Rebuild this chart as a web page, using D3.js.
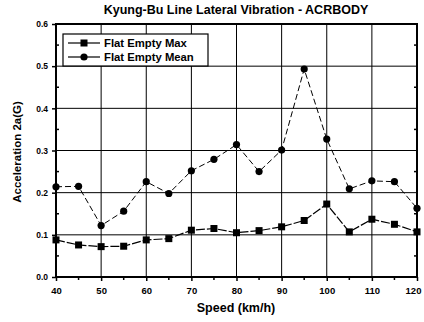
<!DOCTYPE html>
<html><head><meta charset="utf-8">
<script src="https://cdn.jsdelivr.net/npm/d3@7"></script>
<style>body{margin:0;background:#fff}svg{display:block}text{font-family:"Liberation Sans",Arial,sans-serif;font-weight:bold;fill:#000}</style>
</head><body><svg id="c" width="424" height="322"></svg>
<script>
const speeds = [40,45,50,55,60,65,70,75,80,85,90,95,100,105,110,115,120];
const maxVals = [0.088,0.076,0.072,0.073,0.088,0.091,0.111,0.115,0.105,0.110,0.119,0.134,0.173,0.107,0.137,0.125,0.107];
const meanVals = [0.214,0.215,0.122,0.156,0.226,0.198,0.252,0.279,0.314,0.250,0.301,0.493,0.327,0.209,0.228,0.226,0.163];
const xTicks = [40,50,60,70,80,90,100,110,120];
const yTicks = [0,0.1,0.2,0.3,0.4,0.5,0.6];
const yTickLabels = ["0.0","0.1","0.2","0.3","0.4","0.5","0.6"];
const seriesNames = ["Flat Empty Max","Flat Empty Mean"];
const title = "Kyung-Bu Line Lateral Vibration - ACRBODY";

const svg = d3.select("#c");
const L=56,R=417,T=24,B=277;
const x = d3.scaleLinear().domain([40,120]).range([L,R]);
const y = d3.scaleLinear().domain([0,0.6]).range([B,T]);

// grid
svg.append("g").selectAll("line").data(xTicks.slice(1,-1)).join("line")
  .attr("x1",d=>x(d)).attr("x2",d=>x(d)).attr("y1",T).attr("y2",B)
  .attr("stroke","#000").attr("stroke-width",1);
svg.append("g").selectAll("line").data(yTicks.slice(1,-1)).join("line")
  .attr("y1",d=>y(d)).attr("y2",d=>y(d)).attr("x1",L).attr("x2",R)
  .attr("stroke","#000").attr("stroke-width",1);

// axes
const xAxis = d3.axisBottom(x).tickValues(xTicks).tickSize(4).tickFormat(d3.format("d"));
const gx = svg.append("g").attr("transform",`translate(0,${B})`).call(xAxis);
gx.select(".domain").remove();
gx.selectAll("text").attr("font-size",9.5).attr("dy","1.05em");
gx.selectAll("text").filter(d=>d===120).attr("dx",-4);
svg.append("g").selectAll("line").data(d3.range(45,120,10)).join("line")
  .attr("x1",d=>x(d)).attr("x2",d=>x(d)).attr("y1",B).attr("y2",B+3).attr("stroke","#000").attr("stroke-width",1.5);

const yAxis = d3.axisLeft(y).tickValues(yTicks).tickSize(4).tickFormat((d,i)=>yTickLabels[i]);
const gy = svg.append("g").attr("transform",`translate(${L},0)`).call(yAxis);
gy.select(".domain").remove();
gy.selectAll("text").attr("font-size",8.5).attr("x",-8);
svg.append("g").selectAll("line").data(d3.range(0.05,0.6,0.1)).join("line")
  .attr("y1",d=>y(d)).attr("y2",d=>y(d)).attr("x1",L).attr("x2",L+3).attr("stroke","#000").attr("stroke-width",1.5);
svg.append("g").selectAll("line").data(d3.range(0.05,0.6,0.1)).join("line")
  .attr("y1",d=>y(d)).attr("y2",d=>y(d)).attr("x1",R-3).attr("x2",R).attr("stroke","#000").attr("stroke-width",1.5);

gx.selectAll(".tick line").attr("stroke-width",1.5);
gy.selectAll(".tick line").attr("stroke-width",1.5);

// frame
svg.append("rect").attr("x",L).attr("y",T).attr("width",R-L).attr("height",B-T)
  .attr("fill","none").attr("stroke","#000").attr("stroke-width",2);

// lines
const line = d3.line().x((d,i)=>x(speeds[i])).y(d=>y(d));
svg.append("path").attr("d",line(maxVals)).attr("fill","none").attr("stroke","#000").attr("stroke-width",1.2).attr("stroke-dasharray","9,2");
svg.append("path").attr("d",line(meanVals)).attr("fill","none").attr("stroke","#000").attr("stroke-width",1).attr("stroke-dasharray","6,3");
svg.append("g").selectAll("rect").data(maxVals).join("rect")
  .attr("x",(d,i)=>x(speeds[i])-3.5).attr("y",d=>y(d)-3.5).attr("width",7).attr("height",7).attr("fill","#000");
svg.append("g").selectAll("circle").data(meanVals).join("circle")
  .attr("cx",(d,i)=>x(speeds[i])).attr("cy",d=>y(d)).attr("r",3.6).attr("fill","#000");

// legend
const lg = svg.append("g");
lg.append("rect").attr("x",63).attr("y",34).attr("width",145).attr("height",32)
  .attr("fill","#fff").attr("stroke","#000").attr("stroke-width",1.2);
[43,57].forEach((ly,i)=>{
  lg.append("line").attr("x1",68).attr("x2",100).attr("y1",ly).attr("y2",ly).attr("stroke","#000").attr("stroke-width",1.2);
  if(i===0) lg.append("rect").attr("x",80.5).attr("y",ly-3.5).attr("width",7).attr("height",7).attr("fill","#000");
  else lg.append("circle").attr("cx",84).attr("cy",ly).attr("r",3.6).attr("fill","#000");
  lg.append("text").attr("x",104).attr("y",ly+4).attr("font-size",11.3).text(seriesNames[i]);
});

// titles
svg.append("text").attr("x",236).attr("y",14).attr("text-anchor","middle").attr("font-size",12.5).text(title);
svg.append("text").attr("x",236).attr("y",312).attr("text-anchor","middle").attr("font-size",12.5).text("Speed (km/h)");
svg.append("text").attr("transform","translate(21,152) rotate(-90)").attr("text-anchor","middle").attr("font-size",11.5).text("Acceleration 2a(G)");
</script></body></html>
